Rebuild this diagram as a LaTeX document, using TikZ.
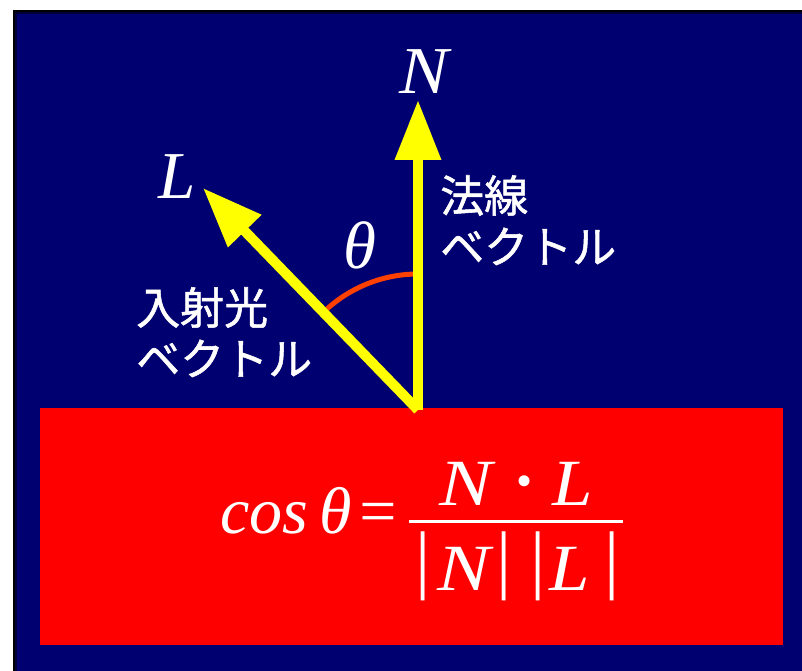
\documentclass[tikz,border=0pt]{standalone}
\usepackage{fontspec}
\setmainfont{Liberation Serif}
\newfontfamily\jpfont[FakeBold=1.2]{Noto Sans CJK JP}
\usetikzlibrary{arrows.meta}
\definecolor{bgnavy}{RGB}{0,0,112}
\definecolor{surfred}{RGB}{255,0,0}
\definecolor{vecyellow}{RGB}{255,255,0}
\definecolor{arcorange}{RGB}{255,64,0}

\begin{document}
\begin{tikzpicture}[x=1pt, y=1pt,
  vec/.style={vecyellow, line width=10pt, -{Triangle[length=60pt,width=44pt]}},
  symlabel/.style={text=white, font=\fontsize{67}{67}\selectfont\itshape, inner sep=0pt},
  jplabel/.style={text=white, font=\fontsize{44}{51}\selectfont\jpfont,
      align=left, inner sep=0pt, anchor=north west},
  formula/.style={text=white, font=\fontsize{66}{66}\selectfont\itshape, inner sep=0pt, anchor=base},
  absbar/.style={formula, font=\fontsize{76}{76}\selectfont}]

\useasboundingbox (0,0) rectangle (802,-671);

% background and surface
\fill[bgnavy] (13,-10) rectangle (802,-671);
\draw[black, line width=2pt] (14,-671) |- (802,-11);
\draw[black!50!bgnavy, line width=2pt] (16,-671) |- (802,-13);
\fill[surfred] (40,-408) rectangle (783,-645);

% vectors
\coordinate (O) at (418,-410);
\coordinate (Ntip) at (418,-100);
\coordinate (Ltip) at (203,-188);

\draw[arcorange, line width=5pt] (O) ++(90:136pt) arc[start angle=90, end angle=132, radius=136pt];
\draw[vec] (O) -- (Ntip);
\draw[vec] (O) -- (Ltip);

% labels
\node[symlabel] (nlab) at (424,-72) {\scalebox{1.1}[1]{N}};
\node[symlabel] (llab) at (177,-177) {L};
\node[symlabel] (thlab) at (360,-245) {θ};
\node[jplabel] (nname) at (440,-175) {法線\\ベクトル};
\node[jplabel] (lname) at (136,-287) {入射光\\ベクトル};

% formula
\node[formula, anchor=base west] (lhs) at (220,-533) {cos\,θ\hspace{4pt}=};
\node[fill=white, minimum width=214pt, minimum height=3pt, inner sep=0pt] (fracbar) at (516,-521) {};
\node[formula] (numN) at (466,-505) {\scalebox{1.2}[1]{N}};
\node[formula] (numdot) at (525,-505) {\raisebox{9pt}{\fontsize{46}{46}\selectfont\upshape•}};
\node[formula] (numL) at (573,-505) {\scalebox{1.1}[1]{L}};
\node[formula] (denN) at (464,-590) {\scalebox{1.2}[1]{N}};
\node[formula] (denL) at (570,-590) {\scalebox{1.1}[1]{L}};
\foreach \bx [count=\i] in {423,504,538,612}
  \node[absbar] (abs\i) at (\bx,-584) {|};

\end{tikzpicture}
\end{document}
